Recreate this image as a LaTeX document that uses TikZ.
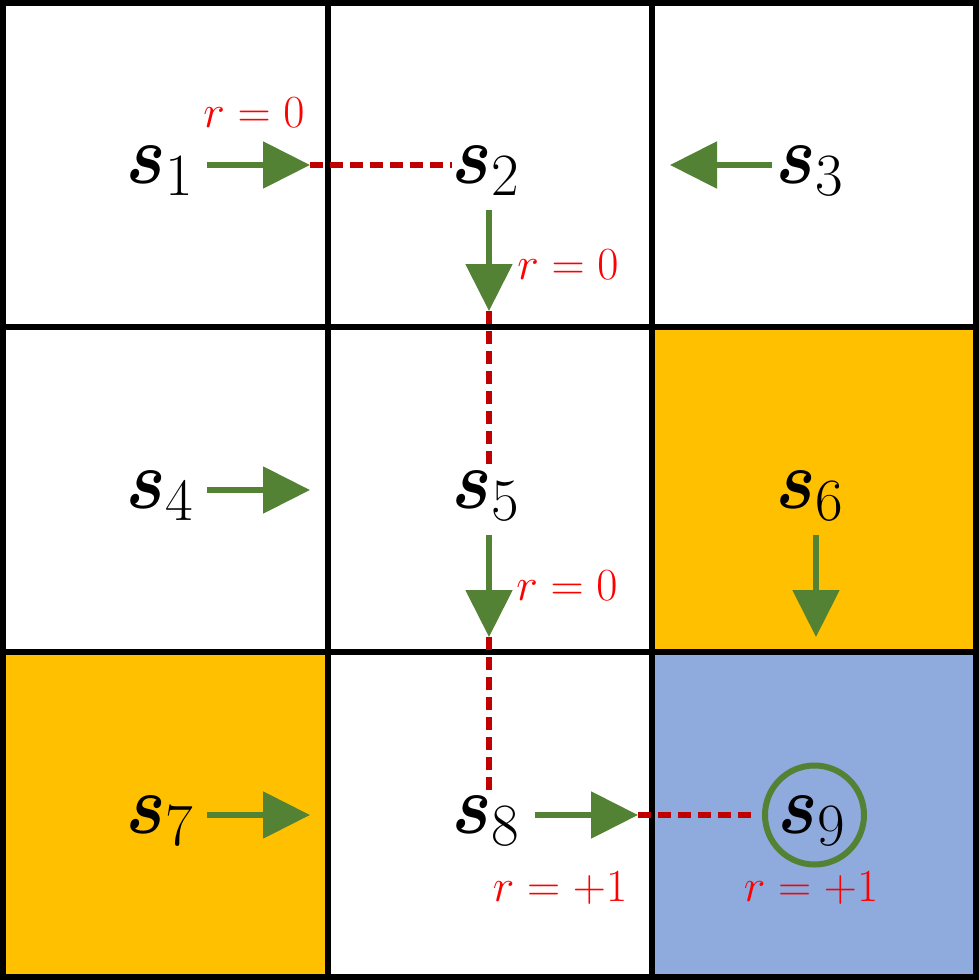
\documentclass[tikz,border=0pt]{standalone}
\usepackage{fix-cm}
\usepackage{amsmath,bm,graphicx}
\usetikzlibrary{arrows.meta}
\DeclareMathSizes{42}{42}{30}{21}
\definecolor{agreen}{RGB}{84,130,53}
\definecolor{corange}{RGB}{255,192,0}
\definecolor{cblue}{RGB}{143,170,220}
\definecolor{dred}{RGB}{192,0,0}
\definecolor{tred}{RGB}{255,0,0}
\newcommand{\stt}[1]{\scalebox{0.88}[1]{$\bm{s}$}_{#1}}
\tikzset{
  gridline/.style={line width=2.6pt, black},
  state/.style={font=\fontsize{42}{50}\selectfont, inner sep=0pt, anchor=base},
  rlabel/.style={font=\fontsize{23}{28}\selectfont, text=tred, inner sep=0pt},
  garrow/.style={agreen, line width=2.75pt, -{Triangle[length=23.5pt,width=23pt]}},
  rdash/.style={dred, line width=2.6pt, dash pattern=on 6.5pt off 3.5pt},
  goal/.style={agreen, line width=3pt}
}
\begin{document}
\begin{tikzpicture}[x=0.5pt,y=-0.5pt]
\useasboundingbox (0,0) rectangle (979,980);
% cell fills
\fill[corange] (652,327) rectangle (976,652);
\fill[corange] (3,652) rectangle (328,977);
\fill[cblue] (652,652) rectangle (976,977);
% grid
\draw[gridline] (3,3) rectangle (976,977);
\draw[gridline] (328,3) -- (328,977);
\draw[gridline] (652,3) -- (652,977);
\draw[gridline] (3,327) -- (976,327);
\draw[gridline] (3,652) -- (976,652);
% states
\node[state] (s1) at (160,183) {$\stt{1}$};
\node[state] (s2) at (486,183) {$\stt{2}$};
\node[state] (s3) at (810,183) {$\stt{3}$};
\node[state] (s4) at (160,508) {$\stt{4}$};
\node[state] (s5) at (486,508) {$\stt{5}$};
\node[state] (s6) at (810,508) {$\stt{6}$};
\node[state] (s7) at (160,833) {$\stt{7}$};
\node[state] (s8) at (486,833) {$\stt{8}$};
\node[state] (s9) at (812,833) {$\stt{9}$};
% goal circle
\node[goal, draw, circle, minimum size=49.5pt, inner sep=0pt] (g9) at (814.5,815) {};
% arrow end points
\coordinate (a1s) at (207,165); \coordinate (a1e) at (310,165);
\coordinate (a2s) at (489,210); \coordinate (a2e) at (489,311);
\coordinate (a3s) at (772,165); \coordinate (a3e) at (670,165);
\coordinate (a4s) at (207,490); \coordinate (a4e) at (310,490);
\coordinate (a5s) at (489,535); \coordinate (a5e) at (489,637);
\coordinate (a6s) at (816,535); \coordinate (a6e) at (816,637);
\coordinate (a7s) at (207,815); \coordinate (a7e) at (310,815);
\coordinate (a8s) at (535,815); \coordinate (a8e) at (638,815);
\coordinate (d1e) at (452,165);
\coordinate (d2e) at (489,470);
\coordinate (d5e) at (489,795);
\coordinate (d8e) at (755,815);
% dashed transitions
\draw[rdash] (a1e) -- (d1e);
\draw[rdash] (a2e) -- (d2e);
\draw[rdash] (a5e) -- (d5e);
\draw[rdash] (a8e) -- (d8e);
% policy arrows
\draw[garrow] (a1s) -- (a1e);
\draw[garrow] (a2s) -- (a2e);
\draw[garrow] (a3s) -- (a3e);
\draw[garrow] (a4s) -- (a4e);
\draw[garrow] (a5s) -- (a5e);
\draw[garrow] (a6s) -- (a6e);
\draw[garrow] (a7s) -- (a7e);
\draw[garrow] (a8s) -- (a8e);
% rewards
\node[rlabel] (r1) at (254,113) {$r=0$};
\node[rlabel] (r2) at (568,265) {$r=0$};
\node[rlabel] (r5) at (567,586) {$r=0$};
\node[rlabel] (r8) at (560,888) {$r=+1$};
\node[rlabel] (r9) at (811,888) {$r=+1$};
\end{tikzpicture}
\end{document}
